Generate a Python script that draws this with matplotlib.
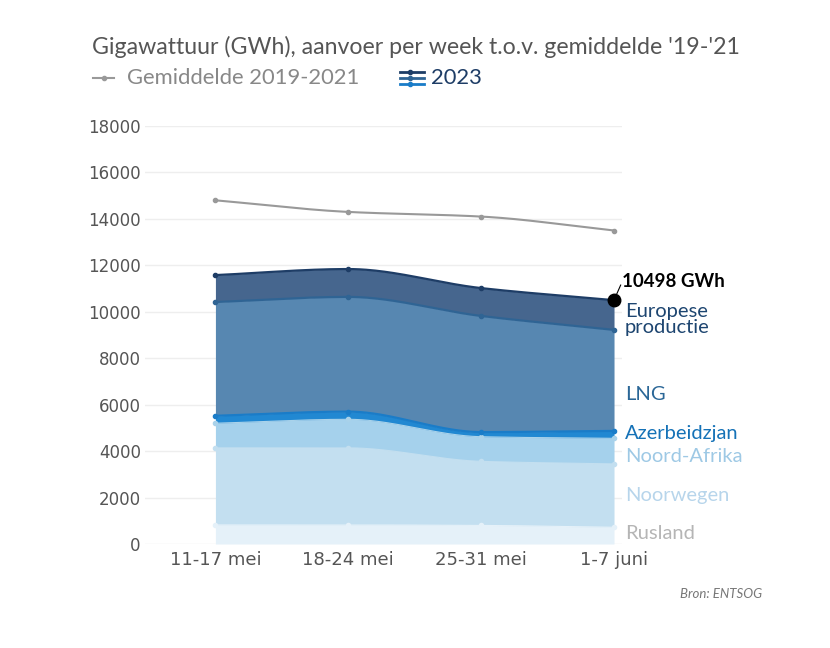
import matplotlib.pyplot as plt
import numpy as np
from matplotlib.lines import Line2D

weeks = ['11-17 mei', '18-24 mei', '25-31 mei', '1-7 juni']
gemiddelde = [14800, 14300, 14100, 13500]

# 2023, aanvoer per bron (GWh)
rusland = [820, 820, 800, 720]
noorwegen = [3320, 3320, 2760, 2730]
noord_afrika = [1060, 1230, 1060, 1100]
azerbeidzjan = [320, 330, 200, 320]
lng = [4900, 4940, 5000, 4350]
europese_productie = [1160, 1200, 1200, 1280]

series = [
    ('Rusland', rusland, '#e5f1f9', '#e5f1f9', '#b5b5b5'),
    ('Noorwegen', noorwegen, '#c3dff0', '#c3dff0', '#b7d5eb'),
    ('Noord-Afrika', noord_afrika, '#a5d1ec', '#a9d2ea', '#9ec9e5'),
    ('Azerbeidzjan', azerbeidzjan, '#2188d2', '#1a7cc8', '#1572b7'),
    ('LNG', lng, '#5787b1', '#2f6494', '#2b6797'),
    ('Europese\nproductie', europese_productie, '#46668e', '#1e3d66', '#1d4570'),
]
label_y = [460, 2100, 3750, 4750, 6450, 9650]


def monotone(x, y, n=60):
    # monotone cubic (Fritsch-Carlson) for smooth drawing
    x = np.asarray(x, float)
    y = np.asarray(y, float)
    h = np.diff(x)
    d = np.diff(y) / h
    m = np.zeros_like(y)
    m[0], m[-1] = d[0], d[-1]
    for i in range(1, len(y) - 1):
        if d[i - 1] * d[i] <= 0:
            m[i] = 0
        else:
            m[i] = 3 * (h[i - 1] + h[i]) / ((2 * h[i] + h[i - 1]) / d[i - 1] + (h[i] + 2 * h[i - 1]) / d[i])
    xs, ys = [], []
    for i in range(len(h)):
        t = np.linspace(0, 1, n)
        h00 = 2 * t**3 - 3 * t**2 + 1
        h10 = t**3 - 2 * t**2 + t
        h01 = -2 * t**3 + 3 * t**2
        h11 = t**3 - t**2
        xs.append(x[i] + t * h[i])
        ys.append(h00 * y[i] + h10 * h[i] * m[i] + h01 * y[i + 1] + h11 * h[i] * m[i + 1])
    return np.concatenate(xs), np.concatenate(ys)


fig = plt.figure(figsize=(8.3, 6.48), dpi=100)
ax = fig.add_axes([145 / 830, 1 - 544 / 648, 477 / 830, 418 / 648])
plt.rcParams['font.family'] = ['Lato', 'DejaVu Sans']

x = np.arange(len(weeks))
base = np.zeros(len(weeks))
base_s = monotone(x, base)[1]
for name, vals, fill, line, tcol in series:
    top = base + np.array(vals)
    xs, top_s = monotone(x, top)
    ax.fill_between(xs, base_s, top_s, color=fill, lw=0, zorder=2)
    lw = 1.6 if name in ('Azerbeidzjan', 'LNG') or name.startswith('Europese') else 0.8
    ax.plot(xs, top_s, color=line, lw=lw, zorder=3)
    ax.plot(x, top, 'o', color=line, ms=3, zorder=4)
    base, base_s = top, top_s

for (name, vals, fill, line, tcol), ly in zip(series, label_y):
    ax.text(3.08, ly, name, color=tcol, fontsize=14.5, va='center', ha='left',
            linespacing=0.92, clip_on=False)

xs, g = monotone(x, gemiddelde)
ax.plot(xs, g, color='#999999', lw=1.5, zorder=3)
ax.plot(x, gemiddelde, 'o', color='#999999', ms=3, zorder=4)

totaal = base[-1]
ax.plot(3, totaal, 'o', color='black', ms=9, zorder=6, clip_on=False)
ax.plot([3, 3.05], [totaal, totaal + 650], color='black', lw=0.8, clip_on=False)
ax.text(3.06, totaal + 450, '%d GWh' % 10498, fontsize=13.5, fontweight='bold',
        color='black', va='bottom', ha='left', clip_on=False)

ax.set_xlim(-0.53, 3.06)
ax.set_ylim(0, 18000)
ax.set_yticks(np.arange(0, 18001, 2000))
ax.set_xticks(x)
ax.set_xticklabels(weeks)
ax.grid(axis='y', color='#eeeeee', lw=1, zorder=0)
ax.set_axisbelow(True)
for s in ax.spines.values():
    s.set_visible(False)
ax.tick_params(length=0, labelsize=12, labelcolor='#555555')
ax.tick_params(axis='y', pad=3)
ax.tick_params(axis='x', pad=5, labelsize=13)

fig.text(92 / 830, 1 - 47 / 648, "Gigawattuur (GWh), aanvoer per week t.o.v. gemiddelde '19-'21",
         fontsize=16.7, color='#555555', va='center', ha='left')
fig.add_artist(Line2D([93 / 830, 114 / 830], [1 - 78 / 648] * 2, color='#999999', lw=1.5))
fig.add_artist(Line2D([103.5 / 830], [1 - 78 / 648], marker='o', color='#999999', ms=3))
fig.text(127 / 830, 1 - 78 / 648, 'Gemiddelde 2019-2021', fontsize=15.8, color='#888888',
         va='center', ha='left')
for dy, c in zip([-6, 0, 6], ['#1e3d66', '#2f6494', '#1a7cc8']):
    fig.add_artist(Line2D([400 / 830, 424 / 830], [1 - (78 + dy) / 648] * 2, color=c, lw=2))
    fig.add_artist(Line2D([410 / 830], [1 - (78 + dy) / 648], marker='o', color=c, ms=3))
fig.text(431 / 830, 1 - 78 / 648, '2023', fontsize=15.8, color='#1e3d66', va='center', ha='left')
fig.text(762 / 830, 1 - 594 / 648, 'Bron: ENTSOG', fontsize=9.5, color='#777777',
         style='italic', va='center', ha='right')

fig.savefig('out.png', dpi=100, facecolor='white')
